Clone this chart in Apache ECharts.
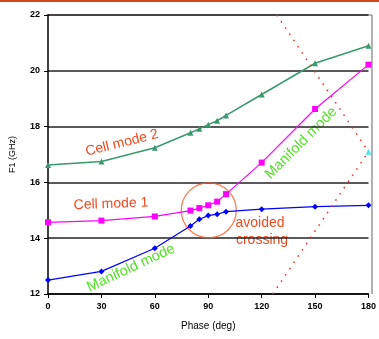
<!DOCTYPE html>
<html>
<head>
<meta charset="utf-8">
<script src="https://cdn.jsdelivr.net/npm/echarts@6/dist/echarts.min.js"></script>
<style>
  html, body { margin: 0; padding: 0; background: #fff; }
  #top { height: 2px; background: #d2451a; width: 379px; }
  #chart1 { width: 379px; height: 337px; }
</style>
</head>
<body>
<div id="top"></div>
<div id="chart1"></div>
<script>
// phase values (deg)
var phase = [0, 30, 60, 80, 85, 90, 95, 100, 120, 150, 180];
var yTicks = [12, 14, 16, 18, 20, 22];
var xTicks = [0, 30, 60, 90, 120, 150, 180];

var cellMode2 = [16.62, 16.75, 17.24, 17.78, 17.92, 18.07, 18.21, 18.4, 19.15, 20.27, 20.9];
var cellMode1 = [14.57, 14.63, 14.78, 14.99, 15.08, 15.18, 15.31, 15.58, 16.71, 18.63, 20.22];
var manifold = [12.5, 12.81, 13.64, 14.44, 14.68, 14.81, 14.86, 14.95, 15.04, 15.13, 15.18];

// light lines
var lightDown = [[128.5, 22], [180, 17.1]];
var lightUp = [[126.2, 12], [180, 17.1]];
var lightPoint = [[180, 17.1]];

// avoided crossing circle centre
var crossing = [[90.3, 15.0]];

function pairs(xs, ys) {
    var out = [];
    for (var i = 0; i < xs.length; i++) out.push([xs[i], ys[i]]);
    return out;
}

var chart = echarts.init(document.getElementById('chart1'));

var tickFont = {
    fontFamily: 'Liberation Sans',
    fontSize: 9,
    fontWeight: 'bold',
    color: '#000'
};
var noteColor = '#f04a20';
var noteFont = 'Liberation Sans';

function note(text, x, y, deg, color, size) {
    return {
        type: 'text', x: x, y: y, rotation: deg * Math.PI / 180,
        style: {
            text: text, fill: color, fontFamily: noteFont, fontSize: size,
            textAlign: 'center', textVerticalAlign: 'middle'
        }
    };
}

var option = {
    animation: false,
    grid: { left: 46.5, right: 7, top: 13, bottom: 45 },
    xAxis: {
        type: 'value',
        min: 0,
        max: 180,
        interval: 30,
        name: 'Phase (deg)',
        nameLocation: 'middle',
        nameGap: 27,
        nameTextStyle: { fontFamily: 'Liberation Sans', fontSize: 10, color: '#000' },
        axisLine: { lineStyle: { color: '#000', width: 1.5 } },
        axisTick: { length: 4, lineStyle: { color: '#000' } },
        axisLabel: Object.assign({ margin: 8 }, tickFont),
        splitLine: { show: false }
    },
    yAxis: {
        type: 'value',
        min: 12,
        max: 22,
        interval: 2,
        name: 'F1 (GHz)',
        nameLocation: 'middle',
        nameGap: 31,
        nameTextStyle: { fontFamily: 'Liberation Sans', fontSize: 9, color: '#000' },
        axisLine: { show: true, lineStyle: { color: '#000', width: 1.5 } },
        axisTick: { show: true, length: 4, lineStyle: { color: '#000' } },
        axisLabel: Object.assign({ margin: 8 }, tickFont),
        splitLine: { lineStyle: { color: '#222', width: 1.5 } }
    },
    series: [
        {
            type: 'line',
            name: 'Cell mode 2',
            data: pairs(phase, cellMode2),
            symbol: 'triangle',
            symbolSize: 6,
            color: '#3a9a6e',
            lineStyle: { width: 1.5 }
        },
        {
            type: 'line',
            name: 'Cell mode 1',
            data: pairs(phase, cellMode1),
            symbol: 'rect',
            symbolSize: 6,
            color: '#ff00ff',
            lineStyle: { width: 1.2 }
        },
        {
            type: 'line',
            name: 'Manifold mode',
            data: pairs(phase, manifold),
            symbol: 'diamond',
            symbolSize: 6,
            color: '#0000ff',
            lineStyle: { width: 1.2 }
        },
        {
            type: 'line',
            data: lightDown,
            symbol: 'none',
            color: '#ff2020',
            lineStyle: { width: 1.5, type: [1.5, 6] }
        },
        {
            type: 'line',
            data: lightUp,
            symbol: 'none',
            color: '#ff2020',
            lineStyle: { width: 1.5, type: [1.5, 6] }
        },
        {
            type: 'scatter',
            data: lightPoint,
            symbol: 'triangle',
            symbolSize: 6,
            color: '#22ddee'
        },
        {
            type: 'scatter',
            data: crossing,
            symbol: 'circle',
            symbolSize: 55,
            silent: true,
            itemStyle: { color: 'rgba(0,0,0,0)', borderColor: '#ff5a28', borderWidth: 1.3 }
        }
    ],
    graphic: [
        // plot frame (top and right, grey)
        { type: 'line', shape: { x1: 46.5, y1: 13, x2: 372, y2: 13 }, style: { stroke: '#999', lineWidth: 1.5 } },
        { type: 'line', shape: { x1: 372, y1: 13, x2: 372, y2: 292 }, style: { stroke: '#999', lineWidth: 1.5 } },
        note('Cell mode 2', 122, 141, 14, noteColor, 14),
        note('Cell mode 1', 111, 202, 2, noteColor, 14),
        note('Manifold mode', 131, 266, 25, '#55e02a', 14.5),
        note('Manifold mode', 301, 141, 45, '#55e02a', 14.5),
        note('avoided', 260, 221, 0, noteColor, 14),
        note('crossing', 262, 238, 0, noteColor, 14)
    ]
};

chart.setOption(option);
</script>
</body>
</html>
